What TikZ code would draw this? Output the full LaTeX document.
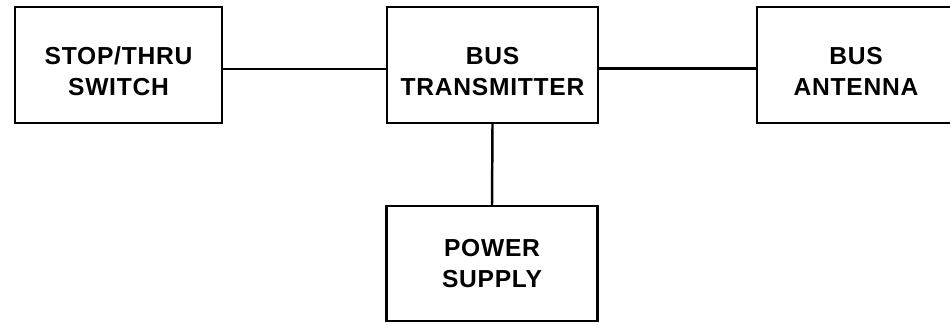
\documentclass[tikz,border=0pt]{standalone}
\usepackage{fontspec}
\setmainfont[LetterSpace=3]{Liberation Sans}
\newcommand{\topgap}{\rule{0pt}{17pt}}
\begin{document}
\begin{tikzpicture}[
        block/.style={
            draw,
            line width=1.4pt,
            minimum width=4.16cm,
            minimum height=2.32cm,
            align=center,
            font=\fontsize{14}{17.5}\selectfont\bfseries
        },
        wire/.style={line width=1.4pt}
    ]
        \useasboundingbox (0,0) rectangle (19,6.5);

        % Stop/thru switch
        \node[block, minimum width=4.14cm] (sw) at (2.37,5.2) {\topgap STOP/THRU\\SWITCH};

        % Transmitter
        \node[block, minimum width=4.22cm] (tx) at (9.85,5.2) {\topgap BUS\\TRANSMITTER};

        % Antenna
        \node[block, minimum width=3.96cm] (ant) at (17.12,5.2) {\topgap BUS\\ANTENNA};

        % Power supply
        \node[block, minimum width=4.22cm, minimum height=2.3cm] (ps) at (9.84,1.23) {POWER\\SUPPLY};

        \draw[wire] ([yshift=-0.08cm]sw.east) -- ([yshift=-0.08cm]tx.west);
        \draw[wire] ([yshift=-0.07cm]tx.east) -- ([yshift=-0.07cm]ant.west);
        \draw[wire] (tx.south) -- (ps.north);
    \end{tikzpicture}
\end{document}
